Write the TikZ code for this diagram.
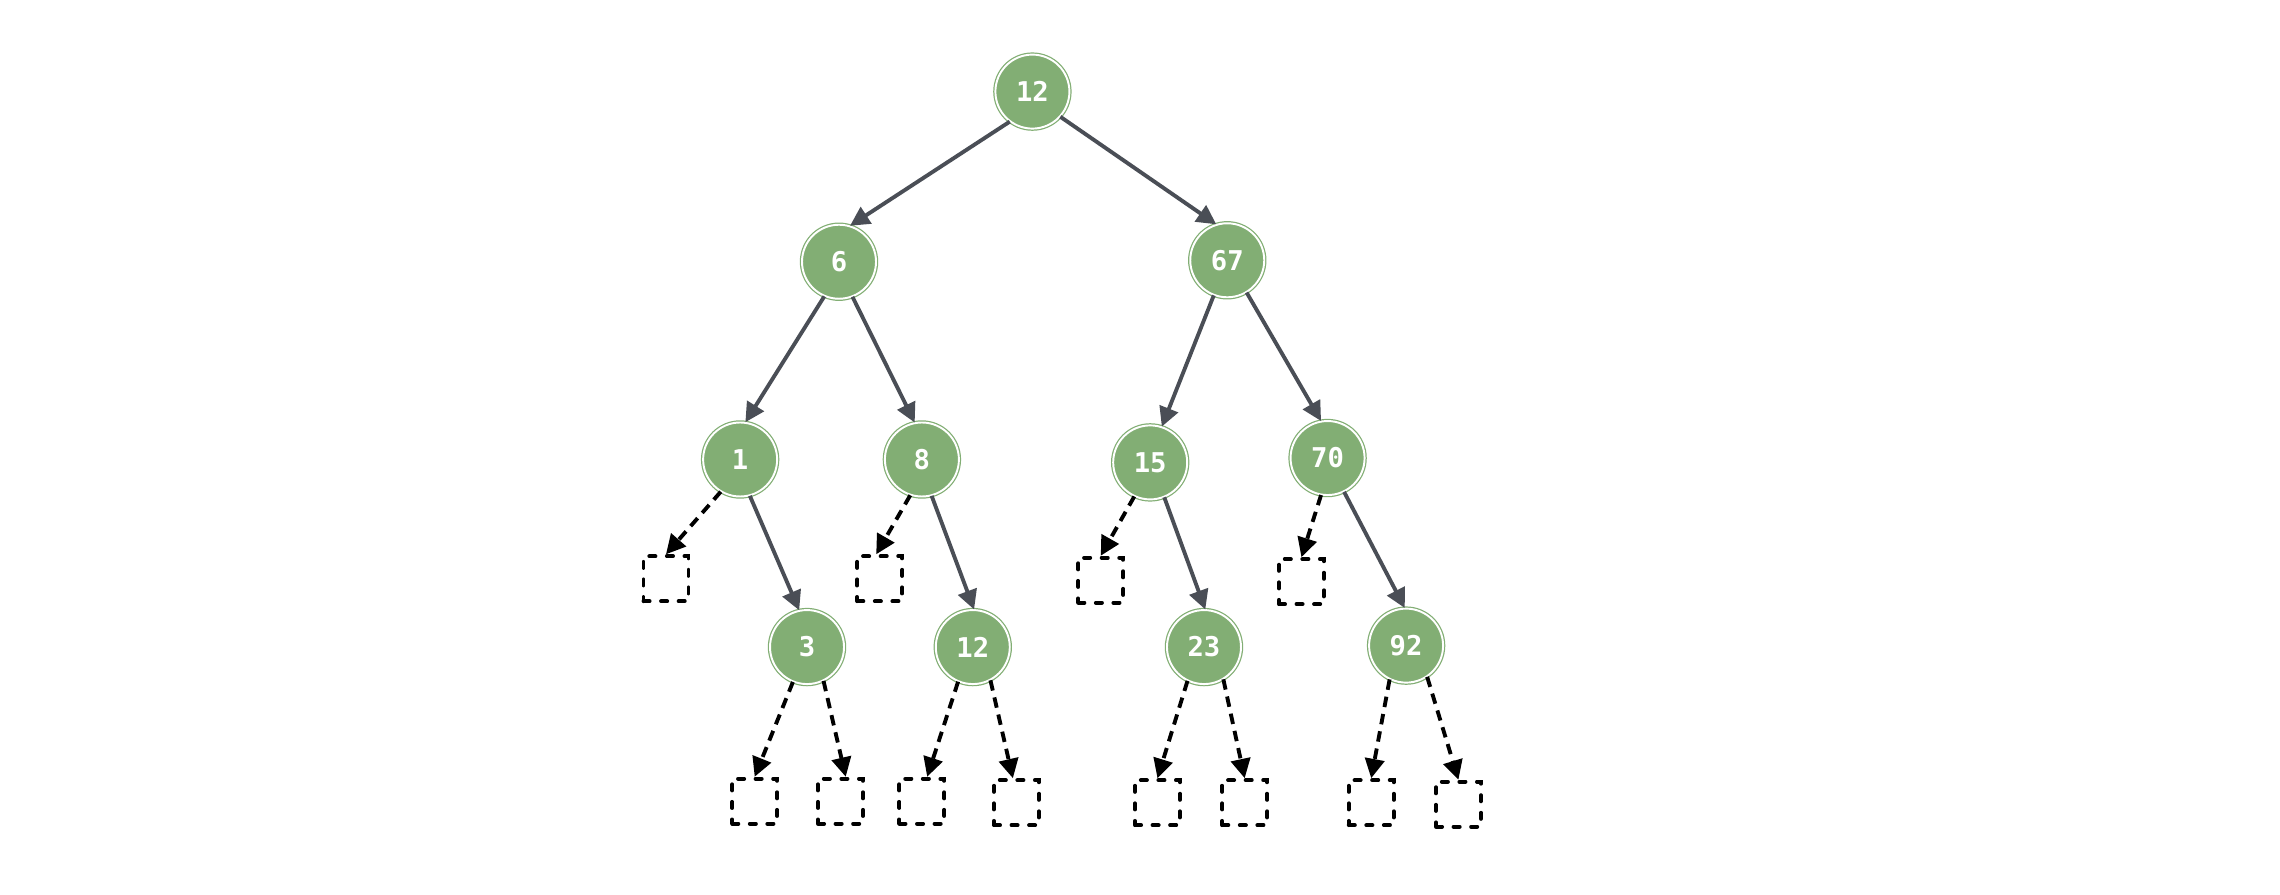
\documentclass[tikz,border=0pt]{standalone}
\usepackage{fontspec}
\setmonofont{DejaVu Sans Mono}
\usetikzlibrary{arrows.meta}
\definecolor{nodegreen}{RGB}{130,174,116}
\definecolor{edgegray}{RGB}{74,78,86}
\tikzset{
  tnode/.style={circle, minimum size=1.48cm, inner sep=0pt, fill=nodegreen, draw=nodegreen,
    line width=0.7pt, double=white, double distance=1.1pt, text=white,
    font=\fontsize{15.5}{18}\selectfont\ttfamily\bfseries},
  nilbox/.style={rectangle, minimum size=0.9cm, inner sep=0pt, draw=black, line width=2.2pt,
    line cap=round, dash pattern=on 3.5pt off 6.5pt},
  solidarrow/.style={draw=edgegray, line width=2.2pt, -{Triangle[length=11pt,width=11pt]}},
  dasharrow/.style={draw=black, line width=2.2pt, dash pattern=on 6pt off 4pt,
    -{Triangle[length=11pt,width=11pt]}},
}
\begin{document}
\begin{tikzpicture}[x=0.029082cm,y=-0.029082cm]
\useasboundingbox (0,0) rectangle (1568,615);
% tree nodes
\node[tnode] (n12) at (710,63) {12};
\node[tnode] (n6) at (577,180) {6};
\node[tnode] (n67) at (844,179) {67};
\node[tnode] (n1) at (509,316) {1};
\node[tnode] (n8) at (634,316) {8};
\node[tnode] (n15) at (791,318) {15};
\node[tnode] (n70) at (913,315) {70};
\node[tnode] (n3) at (555,445) {3};
\node[tnode] (n12b) at (669,445) {12};
\node[tnode] (n23) at (828,445) {23};
\node[tnode] (n92) at (967,444) {92};
% nil boxes
\node[nilbox] (b1) at (458,398) {};
\node[nilbox] (b8) at (605,398) {};
\node[nilbox] (b15) at (757,399) {};
\node[nilbox] (b70) at (895,400) {};
\node[nilbox] (b3l) at (519,551) {};
\node[nilbox] (b3r) at (578,551) {};
\node[nilbox] (b12l) at (634,551) {};
\node[nilbox] (b12r) at (699,552) {};
\node[nilbox] (b23l) at (796,552) {};
\node[nilbox] (b23r) at (856,552) {};
\node[nilbox] (b92l) at (943,552) {};
\node[nilbox] (b92r) at (1003,553) {};
% solid edges
\draw[solidarrow] (n12.-127) -- (n6.73);
\draw[solidarrow] (n12.-42) -- (n67.107);
\draw[solidarrow] (n6.-113) -- (n1.82);
\draw[solidarrow] (n6.-69) -- (n8.101);
\draw[solidarrow] (n67.-111) -- (n15.72);
\draw[solidarrow] (n67.-59) -- (n70.100);
\draw[solidarrow] (n1.-75) -- (n3.102);
\draw[solidarrow] (n8.-75) -- (n12b.88);
\draw[solidarrow] (n15.-68) -- (n23.88);
\draw[solidarrow] (n70.-64) -- (n92.92);
% dashed edges
\draw[dasharrow] (n1.-121) -- (b1.north);
\draw[dasharrow] (n8.-108) -- ([xshift=-2pt]b8.north);
\draw[dasharrow] (n15.-115) -- (b15.north);
\draw[dasharrow] (n70.-100) -- (b70.north);
\draw[dasharrow] (n3.-112) -- (b3l.north);
\draw[dasharrow] (n3.-64) -- ([xshift=3pt]b3r.north);
\draw[dasharrow] (n12b.-113) -- ([xshift=3pt]b12l.north);
\draw[dasharrow] (n12b.-62) -- ([xshift=-2pt]b12r.north);
\draw[dasharrow] (n23.-116) -- (b23l.north);
\draw[dasharrow] (n23.-59) -- (b23r.north);
\draw[dasharrow] (n92.-116) -- (b92l.north);
\draw[dasharrow] (n92.-56) -- (b92r.north);
\end{tikzpicture}
\end{document}
